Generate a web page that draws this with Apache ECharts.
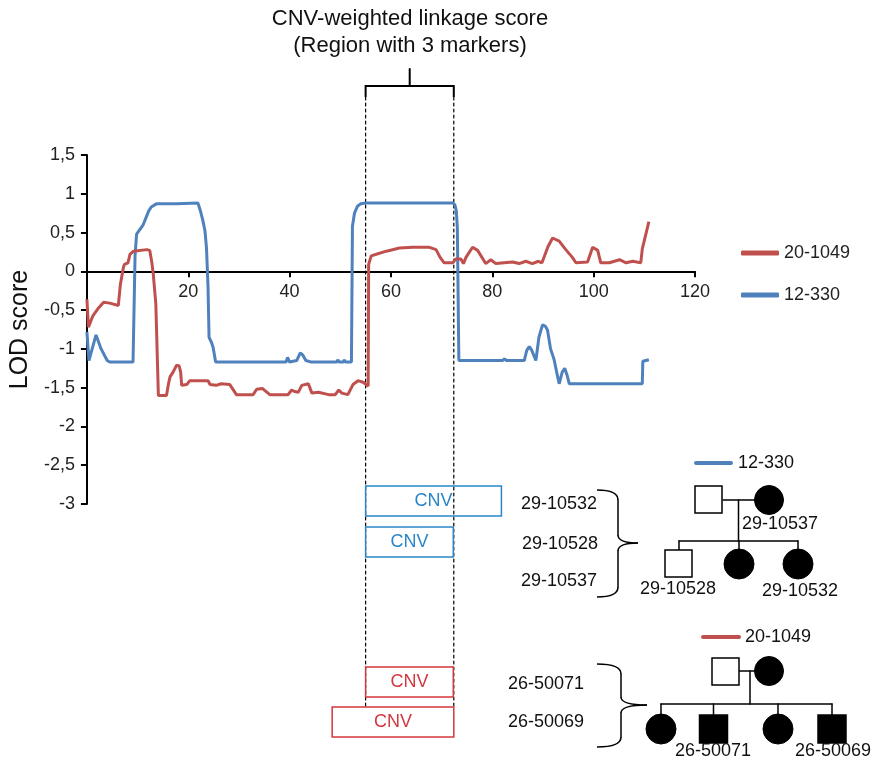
<!DOCTYPE html>
<html>
<head>
<meta charset="utf-8">
<script src="https://cdn.jsdelivr.net/npm/echarts@6/dist/echarts.min.js"></script>
<style>
  html, body { margin: 0; padding: 0; background: #fff; }
  #chart { width: 874px; height: 761px; }
</style>
</head>
<body>
<div id="chart"></div>
<script>
// family 12-330 (blue): position along region vs LOD score
const pos12 = [0, 0.4, 1.8, 2.8, 4.0, 4.5, 9.1, 9.5, 9.8, 11.1, 12.2, 12.7, 13.7, 17.7, 18.0, 21.9, 22.4, 22.9, 23.3, 23.6, 23.9, 24.1, 24.6, 24.9, 25.4,
  39.3, 39.6, 40.0, 41.4, 42.1, 42.6, 43.2, 44.3, 49.3, 49.5, 49.8, 50.6, 50.8, 51.0, 52.2, 52.4, 52.8, 53.4, 54.0, 55.1,
  72.2, 72.6, 72.9, 73.1, 73.4, 78.2, 78.5, 78.8, 82.0, 82.4, 82.8, 86.3, 86.8, 87.3, 87.8, 88.6, 89.2, 89.9, 90.5, 90.9,
  91.5, 92.2, 92.7, 93.2, 93.8, 94.3, 94.8, 95.2, 109.6, 109.7, 110.9];
const lod12 = [-0.78, -1.15, -0.82, -1.0, -1.15, -1.17, -1.17, 0.2, 0.48, 0.6, 0.78, 0.83, 0.87, 0.87, 0.88, 0.88, 0.78, 0.65, 0.52, 0.3, -0.2, -0.85, -0.92, -0.98, -1.17,
  -1.17, -1.11, -1.17, -1.15, -1.05, -1.08, -1.15, -1.17, -1.17, -1.14, -1.17, -1.17, -1.14, -1.17, -1.17, 0.58, 0.75, 0.84, 0.87, 0.88,
  0.88, 0.86, 0.78, 0.56, -1.15, -1.15, -1.13, -1.15, -1.15, -1.13, -1.15, -1.15, -1.02, -0.97, -1.02, -1.15, -0.85, -0.69, -0.71, -0.76,
  -1.0, -1.14, -1.3, -1.45, -1.3, -1.25, -1.35, -1.45, -1.45, -1.16, -1.14];

// family 20-1049 (red)
const pos20 = [0, 0.3, 0.6, 1.2, 2.2, 3.3, 4.5, 6.2, 6.6, 7.2, 7.4, 8.1, 8.5, 9.2, 11.8, 12.4, 12.8, 13.1, 13.6, 14.1, 15.7, 16.1, 16.4, 17.0, 17.7,
  18.2, 18.5, 18.7, 19.7, 20.3, 23.9, 24.3, 25.5, 26.5, 28.2, 29.5, 32.8, 33.5, 34.6, 36.1, 39.7, 40.4, 41.0, 41.7, 42.4, 43.7, 44.4,
  45.7, 47.7, 49.0, 49.7, 50.3, 51.5, 52.5, 53.5, 54.5, 55.5, 55.6, 56.1, 57.1, 59.1, 61.7, 64.3, 67.6, 68.9, 69.7, 70.5, 72.2, 72.8,
  73.8, 74.3, 74.8, 76.1, 77.1, 78.7, 79.7, 80.7, 84.0, 85.3, 86.6, 87.9, 89.1, 89.8, 91.0, 91.9, 93.2, 94.5, 95.8, 96.5, 98.8, 99.8,
  100.8, 101.4, 103.1, 104.1, 105.1, 106.4, 107.7, 109.3, 109.6, 110.9];
const lod20 = [-0.36, -0.72, -0.74, -0.57, -0.48, -0.40, -0.41, -0.44, -0.17, 0.05, 0.09, 0.11, 0.22, 0.26, 0.28, 0.27, 0.12, -0.04, -0.42, -1.6, -1.6, -1.45, -1.36, -1.3, -1.21,
  -1.22, -1.3, -1.47, -1.46, -1.41, -1.41, -1.46, -1.47, -1.45, -1.46, -1.59, -1.59, -1.52, -1.51, -1.59, -1.59, -1.53, -1.55, -1.56, -1.47, -1.45, -1.57,
  -1.56, -1.59, -1.59, -1.53, -1.57, -1.59, -1.46, -1.41, -1.43, -1.48, 0.09, 0.2, 0.22, 0.26, 0.30, 0.31, 0.31, 0.28, 0.18, 0.11, 0.11, 0.16,
  0.16, 0.1, 0.18, 0.31, 0.27, 0.1, 0.15, 0.1, 0.12, 0.1, 0.13, 0.1, 0.13, 0.11, 0.32, 0.43, 0.39, 0.28, 0.18, 0.11, 0.12, 0.31,
  0.27, 0.11, 0.11, 0.13, 0.15, 0.11, 0.13, 0.11, 0.29, 0.64];

const xTicks = [0, 20, 40, 60, 80, 100, 120];
const yTicks = [-3, -2.5, -2, -1.5, -1, -0.5, 0, 0.5, 1, 1.5];

// CNV-weighted region and CNV extents (same x scale)
const region = [55, 72.4];
const cnv12 = [[55, 81.8], [55, 72.3]];
const cnv20 = [[55, 72.3], [48.4, 72.4]];

const RED = '#C0504D';
const BLUE = '#4F81BD';
const CNV_BLUE = '#2A86C8';
const CNV_RED = '#D2383E';
const FONT = '"Liberation Sans", Arial, sans-serif';

const zip = (xs, ys) => xs.map((x, i) => [x, ys[i]]);

var myChart = echarts.init(document.getElementById('chart'));

var option = {
    animation: false,
    textStyle: { fontFamily: FONT },
    grid: { left: 86, right: 179, top: 155, bottom: 257 },
    legend: {
        orient: 'vertical',
        left: 736,
        top: 239,
        itemWidth: 38,
        itemHeight: 5,
        itemGap: 24,
        icon: 'roundRect',
        data: ['20-1049', '12-330'],
        textStyle: { fontSize: 18, color: '#222', fontFamily: FONT }
    },
    xAxis: {
        type: 'value',
        min: xTicks[0],
        max: xTicks[xTicks.length - 1],
        interval: 20,
        position: 'bottom',
        axisLine: { onZero: false, lineStyle: { color: '#000', width: 2 } },
        axisTick: { show: true, length: 6, lineStyle: { color: '#000', width: 2 } },
        axisLabel: { fontSize: 18, color: '#222', margin: 12, formatter: v => v === 0 ? '' : v },
        splitLine: { show: false }
    },
    yAxis: {
        type: 'value',
        min: yTicks[0],
        max: yTicks[yTicks.length - 1],
        interval: 0.5,
        name: 'LOD score',
        nameLocation: 'middle',
        nameRotate: 90,
        nameGap: 48,
        nameTextStyle: { fontSize: 25, color: '#111' },
        axisLine: { show: true, lineStyle: { color: '#000', width: 2 } },
        axisTick: { show: true, length: 6, lineStyle: { color: '#000', width: 2 } },
        axisLabel: { fontSize: 18, color: '#222', margin: 12, formatter: v => String(v).replace('.', ',') },
        splitLine: { show: false }
    },
    series: [
        {
            name: '20-1049',
            type: 'line',
            data: zip(pos20, lod20),
            showSymbol: false,
            color: RED,
            lineStyle: { width: 3, color: RED },
            z: 3
        },
        {
            name: '12-330',
            type: 'line',
            data: zip(pos12, lod12),
            showSymbol: false,
            color: BLUE,
            lineStyle: { width: 3, color: BLUE },
            z: 2
        }
    ]
};

myChart.setOption(option);

// move the whole x axis (line, ticks, labels) up to LOD = 0
const y0 = myChart.convertToPixel({ yAxisIndex: 0 }, 0);
const yMin = myChart.convertToPixel({ yAxisIndex: 0 }, yTicks[0]);
myChart.setOption({ xAxis: { offset: -(yMin - y0) } });

// annotations: x from the axis scale, y positions are layout
const px = v => myChart.convertToPixel({ xAxisIndex: 0 }, v);
const xa = px(region[0]), xb = px(region[1]), xm = (xa + xb) / 2;

function line(x1, y1, x2, y2, color, width, dash) {
    return {
        type: 'line',
        shape: { x1, y1, x2, y2 },
        style: { stroke: color || '#000', lineWidth: width || 1.5, lineDash: dash || null, lineCap: 'round' },
        silent: true
    };
}
function text(str, x, y, color, align, size) {
    return {
        type: 'text',
        x, y,
        style: { text: str, fill: color || '#111', font: (size || 18) + 'px ' + FONT, align: align || 'center', verticalAlign: 'middle' },
        silent: true
    };
}
function cnvBox(range, y, color) {
    const x1 = px(range[0]), x2 = px(range[1]);
    return [
        { type: 'rect', shape: { x: x1, y, width: x2 - x1, height: 30 }, style: { fill: 'none', stroke: color, lineWidth: 1.5 }, silent: true },
        text('CNV', (x1 + x2) / 2, y + 15, color)
    ];
}
function square(x, y, s, filled) {
    return { type: 'rect', shape: { x, y, width: s, height: s }, style: { fill: filled ? '#000' : '#fff', stroke: '#000', lineWidth: 1.5 }, silent: true };
}
function circle(cx, cy, r) {
    return { type: 'circle', shape: { cx, cy, r }, style: { fill: '#000', stroke: '#000', lineWidth: 1 }, silent: true };
}
function curve(x1, y1, cx, cy, x2, y2) {
    return { type: 'bezierCurve', shape: { x1, y1, x2, y2, cpx1: cx, cpy1: cy }, style: { fill: 'none', stroke: '#000', lineWidth: 1.5 }, silent: true };
}
// curly brace opening to the left: ends at xl, spine at xs, tip at xt
function brace(xl, xs, xt, yTop, yMid, yBot) {
    return [
        curve(xl, yTop, xs, yTop, xs, yTop + 10),
        line(xs, yTop + 10, xs, yMid - 8, '#000', 1.5),
        curve(xs, yMid - 8, xs, yMid, xt, yMid),
        curve(xt, yMid, xs, yMid, xs, yMid + 8),
        line(xs, yMid + 8, xs, yBot - 10, '#000', 1.5),
        curve(xs, yBot - 10, xs, yBot, xl, yBot)
    ];
}

const graphics = [
    text('CNV-weighted linkage score', 410, 19, '#111', 'center', 22),
    text('(Region with 3 markers)', 410, 46, '#111', 'center', 22),
    // bracket over the region
    { type: 'polyline', shape: { points: [[xa, 97], [xa, 86], [xb, 86], [xb, 97]] }, style: { stroke: '#000', lineWidth: 2, fill: 'none' }, silent: true },
    line(xm, 69, xm, 86, '#000', 2),
    line(xa, 97, xa, 707, '#000', 1.2, [3, 3]),
    line(xb, 97, xb, 707, '#000', 1.2, [3, 3]),
    ...cnvBox(cnv12[0], 486, CNV_BLUE),
    ...cnvBox(cnv12[1], 527, CNV_BLUE),
    ...cnvBox(cnv20[0], 667, CNV_RED),
    ...cnvBox(cnv20[1], 707, CNV_RED),

    // pedigree 12-330
    line(696, 463, 731, 463, BLUE, 4),
    text('12-330', 738, 463, '#111', 'left'),
    text('29-10532', 521, 504, '#111', 'left'),
    text('29-10528', 522, 544, '#111', 'left'),
    text('29-10537', 521, 581, '#111', 'left'),
    ...brace(597, 618, 638, 490, 543, 597),
    line(723, 500, 755, 500, '#000', 1.5),
    line(738.5, 500, 738.5, 541, '#000', 1.5),
    line(679, 541, 798, 541, '#000', 1.5),
    line(679, 541, 679, 550, '#000', 1.5),
    line(739, 541, 739, 550, '#000', 1.5),
    line(798, 541, 798, 550, '#000', 1.5),
    square(695, 486, 27, false),
    circle(769, 500, 14.5),
    square(665, 550, 27, false),
    circle(739, 564, 15),
    circle(798, 564, 15),
    text('29-10537', 780, 524),
    text('29-10528', 678, 589),
    text('29-10532', 800, 591),

    // pedigree 20-1049
    line(703, 637, 739, 637, RED, 4),
    text('20-1049', 745, 637, '#111', 'left'),
    text('26-50071', 508, 684, '#111', 'left'),
    text('26-50069', 508, 722, '#111', 'left'),
    ...brace(597, 621, 647, 664, 705, 747),
    line(739, 671, 755, 671, '#000', 1.5),
    line(750, 671, 750, 704, '#000', 1.5),
    line(661, 704, 832, 704, '#000', 1.5),
    line(661, 704, 661, 714, '#000', 1.5),
    line(713.5, 704, 713.5, 715, '#000', 1.5),
    line(778, 704, 778, 714, '#000', 1.5),
    line(832, 704, 832, 715, '#000', 1.5),
    square(712, 658, 27, false),
    circle(769, 671, 14.5),
    circle(661, 729, 15),
    square(699.5, 715, 28, true),
    circle(778, 729, 15),
    square(818, 715, 28, true),
    text('26-50071', 713, 751),
    text('26-50069', 833, 751)
];

myChart.setOption({ graphic: graphics });
</script>
</body>
</html>
